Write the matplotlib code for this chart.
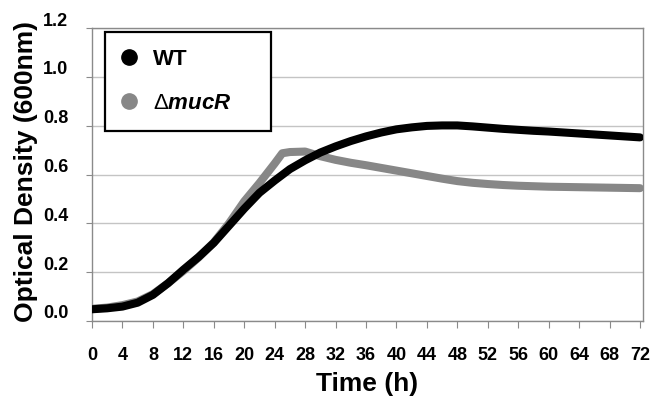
import matplotlib
matplotlib.use("Agg")
import matplotlib.pyplot as plt
from matplotlib.lines import Line2D
from matplotlib.transforms import ScaledTranslation

plt.rcParams['font.family'] = ['Liberation Sans', 'DejaVu Sans']
plt.rcParams['mathtext.fontset'] = 'custom'
plt.rcParams['mathtext.rm'] = 'Liberation Sans'
plt.rcParams['mathtext.it'] = 'Liberation Sans:italic'
plt.rcParams['mathtext.bf'] = 'Liberation Sans:bold'
plt.rcParams['mathtext.bfit'] = 'Liberation Sans:bold:italic'

# datos (horas, DO 600nm)
time_h = [0, 2, 4, 6, 8, 10, 12, 14, 16, 18, 20, 22, 24, 26, 28, 30, 32, 34, 36,
          38, 40, 42, 44, 46, 48, 50, 52, 54, 56, 58, 60, 62, 64, 66, 68, 70, 72]
wt = [0.048, 0.052, 0.059, 0.075, 0.107, 0.155, 0.21, 0.262, 0.32, 0.39, 0.46,
      0.525, 0.575, 0.622, 0.658, 0.69, 0.715, 0.737, 0.756, 0.772, 0.785, 0.793,
      0.799, 0.801, 0.801, 0.797, 0.792, 0.787, 0.783, 0.779, 0.776, 0.772,
      0.768, 0.764, 0.76, 0.756, 0.752]

time_mut = [0, 2, 4, 6, 8, 10, 12, 14, 16, 18, 20, 22, 24, 25, 26, 28, 30, 32,
            34, 36, 38, 40, 42, 44, 46, 48, 50, 52, 54, 56, 58, 60, 62, 64, 66,
            68, 70, 72]
mucr = [0.05, 0.055, 0.065, 0.08, 0.11, 0.155, 0.205, 0.26, 0.322, 0.40, 0.49,
        0.565, 0.645, 0.687, 0.692, 0.694, 0.675, 0.66, 0.648, 0.638, 0.627,
        0.616, 0.605, 0.594, 0.583, 0.573, 0.566, 0.561, 0.557, 0.554, 0.552,
        0.55, 0.549, 0.548, 0.547, 0.546, 0.545, 0.544]

xticks = list(range(0, 73, 4))
yticks = [0.0, 0.2, 0.4, 0.6, 0.8, 1.0, 1.2]

fig = plt.figure(figsize=(6.53, 3.99), dpi=100)
ax = fig.add_axes([0.1409, 0.1955, 0.8438, 0.7343])

ax.plot(time_mut, mucr, color='#878787', lw=5.8, solid_capstyle='round',
        solid_joinstyle='round', zorder=3)
ax.plot(time_h, wt, color='black', lw=5.8, solid_capstyle='round',
        solid_joinstyle='round', zorder=4)

ax.set_xlim(0, 72.4)
ax.set_ylim(0, 1.2)
ax.set_xticks(xticks)
ax.set_yticks(yticks)
ax.set_yticklabels([f"{v:.1f}" for v in yticks])
ax.grid(axis='y', color='#c4c4c4', lw=1)
ax.set_axisbelow(True)

for s in ax.spines.values():
    s.set_color('#8a8a8a')
    s.set_linewidth(1)

ax.tick_params(axis='x', direction='out', length=5, color='#8a8a8a', pad=14,
               labelsize=13)
ax.tick_params(axis='y', direction='out', length=4, color='#8a8a8a', pad=13,
               labelsize=13)
for lab in ax.get_xticklabels() + ax.get_yticklabels():
    lab.set_fontweight('bold')
off = ScaledTranslation(0, 0.09, fig.dpi_scale_trans)
for lab in ax.get_yticklabels():
    lab.set_transform(lab.get_transform() + off)

ax.set_xlabel("Time (h)", fontsize=19, fontweight='bold')
ax.xaxis.set_label_coords(0.5, -0.175)
ax.set_ylabel("Optical Density (600nm)", fontsize=19, fontweight='bold')
ax.yaxis.set_label_coords(-0.098, 0.51)

handles = [Line2D([], [], marker='o', ls='none', color='black', markersize=11),
           Line2D([], [], marker='o', ls='none', color='#878787', markersize=11)]
leg = ax.legend(handles, ["WT", r"$\Delta\mathbfit{mucR}$"],
                loc='upper left', bbox_to_anchor=(0.0236, 0.0, 0.301, 0.986),
                mode='expand', borderaxespad=0, fancybox=False,
                edgecolor='black', framealpha=1, borderpad=0.75,
                labelspacing=1.05, handlelength=0.7, handletextpad=0.7,
                prop={'size': 16, 'weight': 'bold'})
leg.get_frame().set_linewidth(1.6)

fig.savefig("out.png", dpi=100)
